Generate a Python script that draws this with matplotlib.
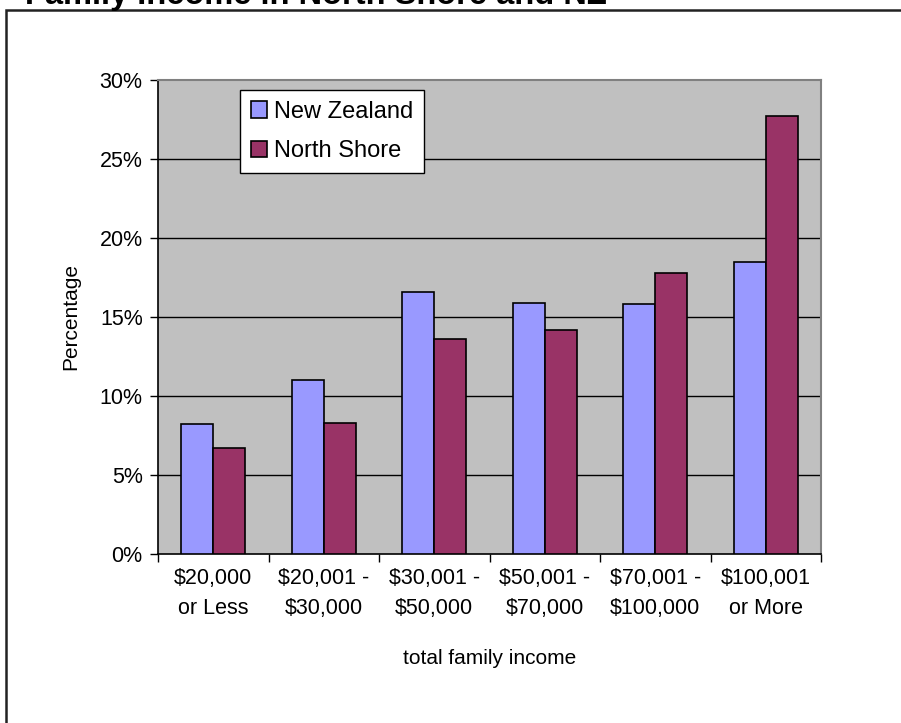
import matplotlib
matplotlib.use("Agg")
import matplotlib.pyplot as plt
from matplotlib.patches import Rectangle
import numpy as np

categories = ["$20,000\nor Less", "$20,001 -\n$30,000", "$30,001 -\n$50,000",
              "$50,001 -\n$70,000", "$70,001 -\n$100,000", "$100,001\nor More"]
new_zealand = [8.2, 11.0, 16.6, 15.9, 15.8, 18.5]
north_shore = [6.7, 8.3, 13.6, 14.2, 17.8, 27.7]
y_ticks = [0, 5, 10, 15, 20, 25, 30]

plt.rcParams["font.family"] = ["Liberation Sans", "DejaVu Sans"]

fig = plt.figure(figsize=(9.01, 7.23), dpi=100)
W, H = 901, 723
ax = fig.add_axes([158 / W, 1 - 554 / H, (821 - 158) / W, (554 - 80) / H])
ax.set_facecolor("#C0C0C0")

x = np.arange(len(categories))
bw = 0.29
ax.bar(x - bw / 2, new_zealand, bw, color="#9999FF", edgecolor="black",
       linewidth=1.2, label="New Zealand", zorder=3)
ax.bar(x + bw / 2, north_shore, bw, color="#993366", edgecolor="black",
       linewidth=1.2, label="North Shore", zorder=3)

ax.set_xlim(-0.5, len(categories) - 0.5)
ax.set_ylim(0, 30)
ax.set_yticks(y_ticks)
ax.set_yticklabels([f"{t}%" for t in y_ticks], fontsize=15.5)
for t in y_ticks[1:-1]:
    ax.axhline(t, color="black", linewidth=1, zorder=1)

ax.set_xticks(x)
ax.set_xticklabels(categories, fontsize=15.5, linespacing=1.6)
ax.set_xticks(np.arange(len(categories) + 1) - 0.5, minor=True)
ax.tick_params(axis="x", which="major", length=0, pad=10)
ax.tick_params(axis="x", which="minor", length=6, width=1, direction="out")
ax.tick_params(axis="y", length=6, width=1, direction="out", pad=5)

for side in ["top", "right"]:
    ax.spines[side].set_color("#808080")
    ax.spines[side].set_linewidth(1.5)
for side in ["left", "bottom"]:
    ax.spines[side].set_color("black")
    ax.spines[side].set_linewidth(1.2)

ax.set_ylabel("Percentage", fontsize=15, labelpad=14)
ax.set_xlabel("total family income", fontsize=15, labelpad=21)

leg = ax.legend(loc="upper left", bbox_to_anchor=((240 - 158) / (821 - 158), 1 - (90 - 80) / (554 - 80)),
                fontsize=17, frameon=True, fancybox=False, edgecolor="black",
                framealpha=1, handlelength=0.7, handleheight=0.7, handletextpad=0.3,
                borderpad=0.45, labelspacing=0.75, borderaxespad=0)
leg.get_frame().set_linewidth(1)
leg.get_frame().set_facecolor("white")

# outer chart frame, title sits mostly above the picture edge like the original
fig.patches.append(Rectangle((6 / W, -0.1), 1.2, 1 - 10 / H + 0.1, transform=fig.transFigure,
                             fill=False, edgecolor="#222222", linewidth=1.8))
fig.text(25 / W, 1 - 4 / H, "Family Income in North Shore and NZ", fontsize=23.5,
         fontweight="bold", va="baseline", ha="left")

fig.savefig("out.png", dpi=100)
